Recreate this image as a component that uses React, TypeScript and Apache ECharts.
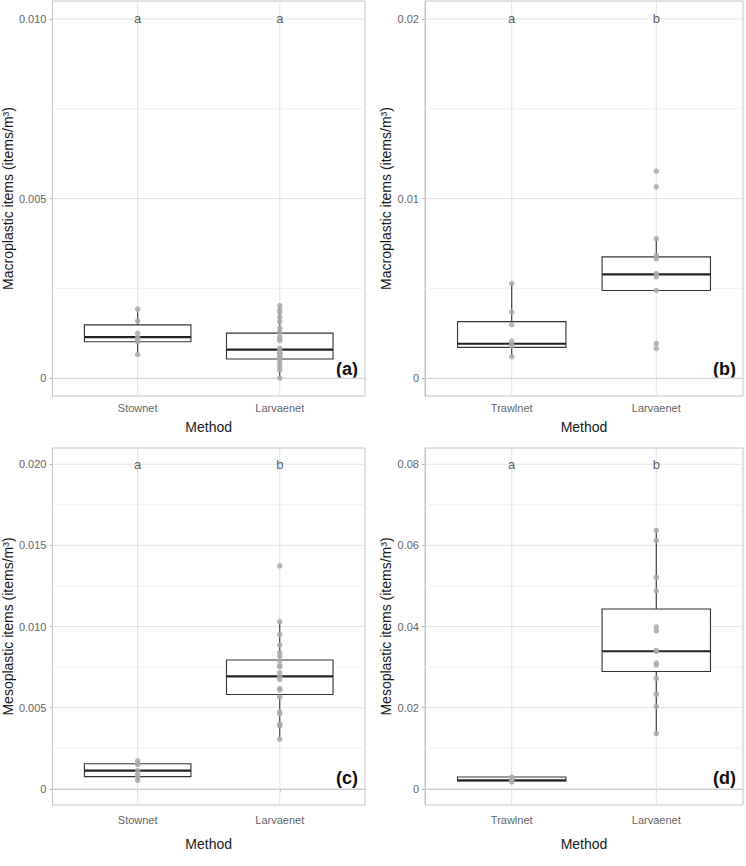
import React, { useEffect, useRef } from "react";
import * as echarts from "echarts";

// ---------- data ----------
const catsA = ["Stownet", "Larvaenet"];
const catsB = ["Trawlnet", "Larvaenet"];
const catsC = ["Stownet", "Larvaenet"];
const catsD = ["Trawlnet", "Larvaenet"];

// panel (a) macroplastic, Stownet vs Larvaenet
const aStowPts = [0.00192, 0.00159, 0.00125, 0.00114, 0.00108, 0.00101, 0.00065];
const aStowBox = [0.00065, 0.00101, 0.00114, 0.00148, 0.00192];
const aLarvPts = [0.00202, 0.0019, 0.00182, 0.00169, 0.00157, 0.00139, 0.00128, 0.00116, 0.00108, 0.00104, 0.00083, 0.00079, 0.00072, 0.00069, 0.00065, 0.00061, 0.00056, 0.0005, 0.00042, 0.00031, 0.00023, 0.0];
const aLarvBox = [0.0, 0.00053, 0.00079, 0.00125, 0.00202];

// panel (b) macroplastic, Trawlnet vs Larvaenet
const bTrawlPts = [0.00527, 0.00367, 0.00297, 0.00206, 0.00187, 0.00178, 0.00119];
const bTrawlBox = [0.00119, 0.00171, 0.00191, 0.00314, 0.00527];
const bLarvPts = [0.01152, 0.01065, 0.00776, 0.00683, 0.00664, 0.00582, 0.00577, 0.00564, 0.00488, 0.00193, 0.00165];
const bLarvBox = [0.00488, 0.00488, 0.00577, 0.00675, 0.00776];

// panel (c) mesoplastic, Stownet vs Larvaenet
const cStowPts = [0.00172, 0.00154, 0.0015, 0.00112, 0.0009, 0.00075, 0.00052];
const cStowBox = [0.00052, 0.00075, 0.00112, 0.00154, 0.00172];
const cLarvPts = [0.01373, 0.0103, 0.00951, 0.00886, 0.00839, 0.00818, 0.00787, 0.00758, 0.00753, 0.00715, 0.00693, 0.00674, 0.00618, 0.00609, 0.00566, 0.00474, 0.00463, 0.00399, 0.00388, 0.00305];
const cLarvBox = [0.00305, 0.00581, 0.00693, 0.00794, 0.0103];

// panel (d) mesoplastic, Trawlnet vs Larvaenet
const dTrawlPts = [0.0029, 0.0026, 0.0022, 0.002, 0.0017];
const dTrawlBox = [0.0017, 0.0019, 0.0021, 0.0029, 0.0029];
const dLarvPts = [0.0637, 0.0612, 0.0521, 0.0488, 0.0399, 0.0389, 0.0341, 0.0339, 0.031, 0.0305, 0.0272, 0.0233, 0.0203, 0.0136];
const dLarvBox = [0.0136, 0.0289, 0.0339, 0.0443, 0.0637];

// significance letters
const lettersA = ["a", "a"];
const lettersB = ["a", "b"];
const lettersC = ["a", "b"];
const lettersD = ["a", "b"];
const letterY = [0.01, 0.02, 0.02, 0.08];

// tick values and labels
const ticksA = [0, 0.005, 0.01];
const tickLabelsA = ["0", "0.005", "0.010"];
const minorA = [0.0025, 0.0075];
const ticksB = [0, 0.01, 0.02];
const tickLabelsB = ["0", "0.01", "0.02"];
const minorB = [0.005, 0.015];
const ticksC = [0, 0.005, 0.01, 0.015, 0.02];
const tickLabelsC = ["0", "0.005", "0.010", "0.015", "0.020"];
const minorC = [0.0025, 0.0075, 0.0125, 0.0175];
const ticksD = [0, 0.02, 0.04, 0.06, 0.08];
const tickLabelsD = ["0", "0.02", "0.04", "0.06", "0.08"];
const minorD = [0.01, 0.03, 0.05, 0.07];

const tags = ["(a)", "(b)", "(c)", "(d)"];
const yTitles = ["Macroplastic items (items/m³)", "Macroplastic items (items/m³)", "Mesoplastic items (items/m³)", "Mesoplastic items (items/m³)"];
const xTitle = "Method";

// ---------- styling ----------
const FONT = "'Liberation Sans', Arial, Helvetica, sans-serif";
const BORDER = "#c4c4c4";
const GRID_MAJOR = "#e4e4e4";
const GRID_MINOR = "#f0f0f0";
const POINT = "#a9a9a9";
const BOXLINE = "#333333";

type Panel = {
  cats: string[];
  pts: number[][];
  boxes: number[][];
  letters: string[];
  letterY: number;
  ticks: number[];
  tickLabels: string[];
  minor: number[];
  yMin: number;
  yMax: number;
  grid: { left: number; top: number; width: number; height: number };
  yTitle: string;
  nameGap: number;
  xLabelMargin: number;
  xNameGap: number;
};

const panels: Panel[] = [
  {
    cats: catsA, pts: [aStowPts, aLarvPts], boxes: [aStowBox, aLarvBox], letters: lettersA, letterY: letterY[0],
    ticks: ticksA, tickLabels: tickLabelsA, minor: minorA, yMin: -0.0005, yMax: 0.0105,
    grid: { left: 52, top: 1, width: 313, height: 395 }, yTitle: yTitles[0], nameGap: 37,
    xLabelMargin: 6, xNameGap: 24,
  },
  {
    cats: catsB, pts: [bTrawlPts, bLarvPts], boxes: [bTrawlBox, bLarvBox], letters: lettersB, letterY: letterY[1],
    ticks: ticksB, tickLabels: tickLabelsB, minor: minorB, yMin: -0.001, yMax: 0.021,
    grid: { left: 425, top: 1, width: 318, height: 395 }, yTitle: yTitles[1], nameGap: 32,
    xLabelMargin: 6, xNameGap: 24,
  },
  {
    cats: catsC, pts: [cStowPts, cLarvPts], boxes: [cStowBox, cLarvBox], letters: lettersC, letterY: letterY[2],
    ticks: ticksC, tickLabels: tickLabelsC, minor: minorC, yMin: -0.001, yMax: 0.021,
    grid: { left: 52, top: 448, width: 313, height: 357 }, yTitle: yTitles[2], nameGap: 37,
    xLabelMargin: 9, xNameGap: 32,
  },
  {
    cats: catsD, pts: [dTrawlPts, dLarvPts], boxes: [dTrawlBox, dLarvBox], letters: lettersD, letterY: letterY[3],
    ticks: ticksD, tickLabels: tickLabelsD, minor: minorD, yMin: -0.004, yMax: 0.084,
    grid: { left: 425, top: 448, width: 318, height: 357 }, yTitle: yTitles[3], nameGap: 32,
    xLabelMargin: 9, xNameGap: 32,
  },
];

function buildOption() {
  const grid: any[] = [];
  const xAxis: any[] = [];
  const yAxis: any[] = [];
  const series: any[] = [];
  const graphic: any[] = [];

  panels.forEach((p, i) => {
    grid.push({ ...p.grid, show: true, borderColor: BORDER, borderWidth: 1, backgroundColor: "transparent", containLabel: false });
    xAxis.push({
      type: "value", gridIndex: i, min: 0.4, max: 2.6,
      name: xTitle, nameLocation: "middle", nameGap: p.xNameGap,
      nameTextStyle: { fontFamily: FONT, fontSize: 14, color: "#1a1a1a" },
      axisLine: { show: true, lineStyle: { color: BORDER, width: 1 } },
      axisTick: { show: true, length: 3, customValues: [1, 2], lineStyle: { color: "#b3b3b3" } },
      axisLabel: {
        show: true, customValues: [1, 2], margin: p.xLabelMargin, fontFamily: FONT, fontSize: 11, color: "#666",
        formatter: (v: number) => p.cats[Math.round(v) - 1] ?? "",
      },
      splitLine: { show: false },
    });
    yAxis.push({
      type: "value", gridIndex: i, min: p.yMin, max: p.yMax,
      name: p.yTitle, nameLocation: "middle", nameGap: p.nameGap, nameRotate: 90,
      nameTextStyle: { fontFamily: FONT, fontSize: 14, color: "#1a1a1a" },
      axisLine: { show: true, lineStyle: { color: BORDER, width: 1 } },
      axisTick: { show: true, length: 3, customValues: p.ticks, lineStyle: { color: "#b3b3b3" } },
      axisLabel: {
        show: true, customValues: p.ticks, margin: 6, fontFamily: FONT, fontSize: 11, color: "#666",
        formatter: (v: number) => {
          const k = p.ticks.findIndex((t) => Math.abs(t - v) < 1e-9);
          return k >= 0 ? p.tickLabels[k] : "";
        },
      },
      splitLine: { show: false },
    });

    // gridlines
    const spec: { dir: string; v: number; major: boolean }[] = [];
    p.minor.forEach((v) => spec.push({ dir: "h", v, major: false }));
    p.ticks.forEach((v) => spec.push({ dir: "h", v, major: true }));
    [1, 2].forEach((v) => spec.push({ dir: "v", v, major: true }));
    series.push({
      type: "custom", xAxisIndex: i, yAxisIndex: i, silent: true, z: 1,
      data: spec.map((g) => (g.dir === "h" ? [1, g.v] : [g.v, 0])),
      encode: { x: 0, y: 1 },
      renderItem: (params: any, api: any) => {
        const g = spec[params.dataIndex];
        const cs = params.coordSys;
        if (g.dir === "h") {
          const y = api.coord([1, g.v])[1];
          return {
            type: "line", silent: true,
            shape: { x1: cs.x, y1: y, x2: cs.x + cs.width, y2: y },
            style: { stroke: g.major ? GRID_MAJOR : GRID_MINOR, lineWidth: 1 },
          };
        }
        const x = api.coord([g.v, 0])[0];
        return {
          type: "line", silent: true,
          shape: { x1: x, y1: cs.y, x2: x, y2: cs.y + cs.height },
          style: { stroke: GRID_MAJOR, lineWidth: 1 },
        };
      },
    });

    // boxes
    series.push({
      type: "custom", xAxisIndex: i, yAxisIndex: i, silent: true, z: 2,
      data: p.boxes.map((b, k) => [k + 1, ...b]),
      encode: { x: 0, y: [1, 2, 3, 4, 5] },
      renderItem: (params: any, api: any) => {
        const x = api.value(0);
        const mn = api.value(1), q1 = api.value(2), md = api.value(3), q3 = api.value(4), mx = api.value(5);
        const pTL = api.coord([x - 0.375, q3]);
        const pBR = api.coord([x + 0.375, q1]);
        const pMin = api.coord([x, mn]);
        const pMax = api.coord([x, mx]);
        const pMed = api.coord([x, md]);
        return {
          type: "group",
          children: [
            { type: "line", shape: { x1: pMax[0], y1: pMax[1], x2: pMax[0], y2: pTL[1] }, style: { stroke: BOXLINE, lineWidth: 1.1 } },
            { type: "line", shape: { x1: pMin[0], y1: pBR[1], x2: pMin[0], y2: pMin[1] }, style: { stroke: BOXLINE, lineWidth: 1.1 } },
            { type: "rect", shape: { x: pTL[0], y: pTL[1], width: pBR[0] - pTL[0], height: pBR[1] - pTL[1] }, style: { fill: "#ffffff", stroke: BOXLINE, lineWidth: 1.1 } },
            { type: "line", shape: { x1: pTL[0], y1: pMed[1], x2: pBR[0], y2: pMed[1] }, style: { stroke: "#222", lineWidth: 2.2 } },
          ],
        };
      },
    });

    // points
    const ptData: number[][] = [];
    p.pts.forEach((arr, k) => arr.forEach((v) => ptData.push([k + 1, v])));
    series.push({
      type: "scatter", xAxisIndex: i, yAxisIndex: i, silent: true, z: 3,
      symbol: "circle", symbolSize: 5.5,
      itemStyle: { color: POINT, opacity: 0.85 },
      data: ptData,
    });

    // letters
    series.push({
      type: "scatter", xAxisIndex: i, yAxisIndex: i, silent: true, z: 4,
      symbolSize: 1, itemStyle: { color: "transparent" },
      data: p.letters.map((l, k) => ({ value: [k + 1, p.letterY], name: l })),
      label: {
        show: true, position: "inside", formatter: (d: any) => d.name,
        fontFamily: FONT, fontSize: 13, color: "#333",
      },
    });

    // tags
    graphic.push({
      type: "text",
      x: p.grid.left + p.grid.width - 7,
      y: p.grid.top + p.grid.height - 18,
      style: {
        text: tags[i], fontFamily: FONT, fontSize: 18, fontWeight: "bold", fill: "#111",
        align: "right", verticalAlign: "bottom",
      },
    });
  });

  return { animation: false, backgroundColor: "#ffffff", grid, xAxis, yAxis, series, graphic };
}

export default function App() {
  const ref = useRef<HTMLDivElement>(null);
  useEffect(() => {
    if (!ref.current) return;
    const chart = echarts.init(ref.current, undefined, { renderer: "svg" });
    chart.setOption(buildOption() as any);
    return () => chart.dispose();
  }, []);
  return <div ref={ref} style={{ position: "absolute", left: 0, top: 0, width: 746, height: 866 }} />;
}
